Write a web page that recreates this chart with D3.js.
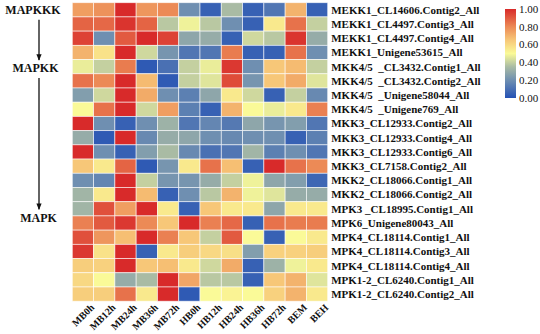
<!DOCTYPE html>
<html>
<head>
<meta charset="utf-8">
<script src="https://cdn.jsdelivr.net/npm/d3@7"></script>
<style>
  body { margin: 0; background: #fff; }
  text { font-family: "Liberation Serif", "Times New Roman", serif; font-weight: bold; fill: #111; }
</style>
</head>
<body>
<div id="chart"></div>
<script>
// columns
var samples = ["MB0h", "MB12h", "MB24h", "MB36h", "MB72h", "HB0h", "HB12h", "HB24h", "HB36h", "HB72h", "BEM", "BEH"];

// rows
var genes = [
    "MEKK1_CL14606.Contig2_All",
    "MEKK1_CL4497.Contig3_All",
    "MEKK1_CL4497.Contig4_All",
    "MEKK1_Unigene53615_All",
    "MKK4/5  _CL3432.Contig1_All",
    "MKK4/5  _CL3432.Contig2_All",
    "MKK4/5  _Unigene58044_All",
    "MKK4/5  _Unigene769_All",
    "MKK3_CL12933.Contig2_All",
    "MKK3_CL12933.Contig4_All",
    "MKK3_CL12933.Contig6_All",
    "MKK3_CL7158.Contig2_All",
    "MKK2_CL18066.Contig1_All",
    "MKK2_CL18066.Contig2_All",
    "MPK3 _CL18995.Contig1_All",
    "MPK6_Unigene80043_All",
    "MPK4_CL18114.Contig1_All",
    "MPK4_CL18114.Contig3_All",
    "MPK4_CL18114.Contig4_All",
    "MPK1-2_CL6240.Contig1_All",
    "MPK1-2_CL6240.Contig2_All"
];

// normalized expression, one row per gene
var values = [
    [0.75, 0.78, 1.00, 0.77, 0.80, 0.20, 0.05, 0.35, 0.05, 0.12, 0.70, 0.05],
    [0.88, 0.87, 0.98, 0.88, 0.38, 0.48, 0.38, 0.20, 0.05, 0.55, 0.85, 0.40],
    [0.95, 0.20, 0.90, 1.00, 0.95, 0.28, 0.30, 0.05, 0.42, 0.38, 0.98, 0.30],
    [0.70, 0.57, 1.00, 0.42, 0.22, 0.12, 0.12, 0.83, 0.05, 0.05, 0.85, 0.20],
    [0.47, 0.40, 0.83, 0.03, 0.10, 0.40, 0.47, 0.97, 0.20, 0.65, 0.68, 0.40],
    [0.85, 0.80, 1.00, 0.68, 0.03, 0.40, 0.45, 0.93, 0.22, 0.65, 0.72, 0.45],
    [0.25, 0.42, 1.00, 0.72, 0.20, 0.15, 0.28, 0.55, 0.42, 0.05, 0.40, 0.18],
    [0.50, 0.85, 1.00, 0.42, 0.75, 0.15, 0.05, 0.70, 0.50, 0.47, 0.55, 0.82],
    [1.00, 0.20, 0.05, 0.20, 0.32, 0.12, 0.17, 0.13, 0.28, 0.22, 0.25, 0.12],
    [0.30, 0.03, 1.00, 0.18, 0.30, 0.28, 0.20, 0.18, 0.20, 0.20, 0.05, 0.15],
    [1.00, 0.20, 0.05, 0.25, 0.35, 0.18, 0.10, 0.12, 0.33, 0.15, 0.20, 0.12],
    [0.65, 0.55, 0.88, 0.03, 0.22, 0.55, 0.85, 0.67, 0.05, 1.00, 0.85, 0.80],
    [0.20, 0.17, 1.00, 0.40, 0.22, 0.22, 0.30, 0.40, 0.48, 0.28, 0.25, 0.07],
    [0.33, 0.55, 1.00, 0.68, 0.05, 0.20, 0.38, 0.70, 0.48, 0.45, 0.30, 0.30],
    [0.33, 0.92, 0.75, 1.00, 0.55, 0.05, 0.65, 0.55, 0.55, 0.28, 0.55, 0.55],
    [0.82, 0.90, 0.97, 0.80, 0.65, 1.00, 0.82, 0.87, 0.05, 0.85, 0.83, 0.83],
    [0.92, 0.77, 0.67, 1.00, 0.82, 0.65, 0.40, 0.90, 0.50, 0.05, 0.50, 0.55],
    [0.97, 0.57, 1.00, 0.05, 0.55, 0.63, 0.60, 0.58, 0.25, 0.62, 0.62, 0.63],
    [0.63, 0.62, 1.00, 0.65, 0.67, 0.55, 0.42, 0.72, 0.05, 0.32, 0.48, 0.55],
    [0.60, 0.50, 0.30, 0.35, 1.00, 0.73, 0.38, 0.38, 0.05, 0.65, 0.70, 0.45],
    [0.63, 0.63, 0.85, 0.55, 1.00, 0.03, 0.50, 0.52, 0.50, 0.62, 0.70, 0.55]
];

// group labels on the left, with the row they sit on
var groups = ["MAPKKK", "MAPKK", "MAPK"];
var groupRows = [0, 4.1, 14.6];

var legendTicks = [0, 0.2, 0.4, 0.6, 0.8, 1.0];

var width = 540, height = 334;
var margin = {top: 2.7, left: 72.3};
var gridW = 255.4, gridH = 298.5;

var svg = d3.select("#chart").append("svg")
    .attr("width", width)
    .attr("height", height);

var xScale = d3.scaleBand()
    .domain(samples)
    .range([margin.left, margin.left + gridW]);

var yScale = d3.scaleBand()
    .domain(genes)
    .range([margin.top, margin.top + gridH]);

var color = d3.scaleLinear()
    .domain([0, 0.2, 0.35, 0.5, 0.65, 0.8, 1])
    .range(["#2451b5", "#6f8fb1", "#a9bba4", "#fafa98", "#f7c778", "#ec8a56", "#d82a2a"])
    .clamp(true);

var cells = [];
values.forEach(function(row, i) {
    row.forEach(function(v, j) {
        cells.push({gene: genes[i], sample: samples[j], value: v});
    });
});

svg.append("g").attr("class", "cells")
    .selectAll("rect").data(cells)
    .join("rect")
    .attr("x", function(d) { return xScale(d.sample); })
    .attr("y", function(d) { return yScale(d.gene); })
    .attr("width", xScale.bandwidth())
    .attr("height", yScale.bandwidth())
    .attr("fill", function(d) { return color(d.value); })
    .attr("stroke", "#fff")
    .attr("stroke-opacity", 0.7)
    .attr("stroke-width", 0.8);

// row labels
svg.append("g").attr("class", "rowLabels")
    .selectAll("text").data(genes)
    .join("text")
    .attr("x", margin.left + gridW + 3.5)
    .attr("y", function(d) { return yScale(d) + yScale.bandwidth() / 2; })
    .attr("dy", "0.35em")
    .attr("font-size", 11)
    .style("white-space", "pre")
    .attr("xml:space", "preserve")
    .text(function(d) { return d; });

// column labels
svg.append("g").attr("class", "colLabels")
    .selectAll("text").data(samples)
    .join("text")
    .attr("transform", function(d) {
        return "translate(" + (xScale(d) + xScale.bandwidth() / 2 + 7) + "," + (margin.top + gridH + 2) + ") rotate(-45)";
    })
    .attr("text-anchor", "end")
    .attr("dy", "0.7em")
    .attr("font-size", 10)
    .text(function(d) { return d; });

// group labels + arrows
var groupScale = d3.scaleLinear()
    .domain([0, genes.length])
    .range([margin.top, margin.top + gridH]);

var groupX = [33, 35.5, 38.5];

svg.append("defs").append("marker")
    .attr("id", "arrow")
    .attr("viewBox", "0 0 10 10")
    .attr("refX", 9).attr("refY", 5)
    .attr("markerWidth", 5).attr("markerHeight", 5)
    .attr("orient", "auto")
    .append("path")
    .attr("d", "M0,1 L10,5 L0,9 Z")
    .attr("fill", "#111");

svg.append("g").attr("class", "groups")
    .selectAll("text").data(groups)
    .join("text")
    .attr("x", function(d, i) { return groupX[i]; })
    .attr("y", function(d, i) { return groupScale(groupRows[i] + 0.5); })
    .attr("dy", "0.35em")
    .attr("text-anchor", "middle")
    .attr("font-size", 12)
    .text(function(d) { return d; });

var arrowX = 39;
for (var i = 0; i < groups.length - 1; i++) {
    svg.append("line")
        .attr("x1", arrowX).attr("x2", arrowX)
        .attr("y1", groupScale(groupRows[i] + 0.5) + 10)
        .attr("y2", groupScale(groupRows[i + 1] + 0.5) - 8)
        .attr("stroke", "#111")
        .attr("stroke-width", 1.3)
        .attr("marker-end", "url(#arrow)");
}

// legend
var legX = 505, legW = 11, legTop = 9, legBottom = 98;
var legScale = d3.scaleLinear().domain([0, 1]).range([legBottom, legTop]);

var grad = svg.select("defs").append("linearGradient")
    .attr("id", "legGrad")
    .attr("x1", "0%").attr("y1", "100%")
    .attr("x2", "0%").attr("y2", "0%");
grad.selectAll("stop").data(d3.range(0, 1.01, 0.05))
    .join("stop")
    .attr("offset", function(d) { return (d * 100) + "%"; })
    .attr("stop-color", function(d) { return color(d); });

svg.append("rect")
    .attr("x", legX).attr("y", legTop)
    .attr("width", legW).attr("height", legBottom - legTop)
    .attr("fill", "url(#legGrad)");

svg.append("g").attr("class", "legendTicks")
    .selectAll("text").data(legendTicks)
    .join("text")
    .attr("x", legX + legW + 3)
    .attr("y", function(d) { return legScale(d); })
    .attr("dy", "0.35em")
    .attr("font-size", 11)
    .style("font-weight", "normal")
    .text(function(d) { return d.toFixed(2); });
</script>
</body>
</html>
